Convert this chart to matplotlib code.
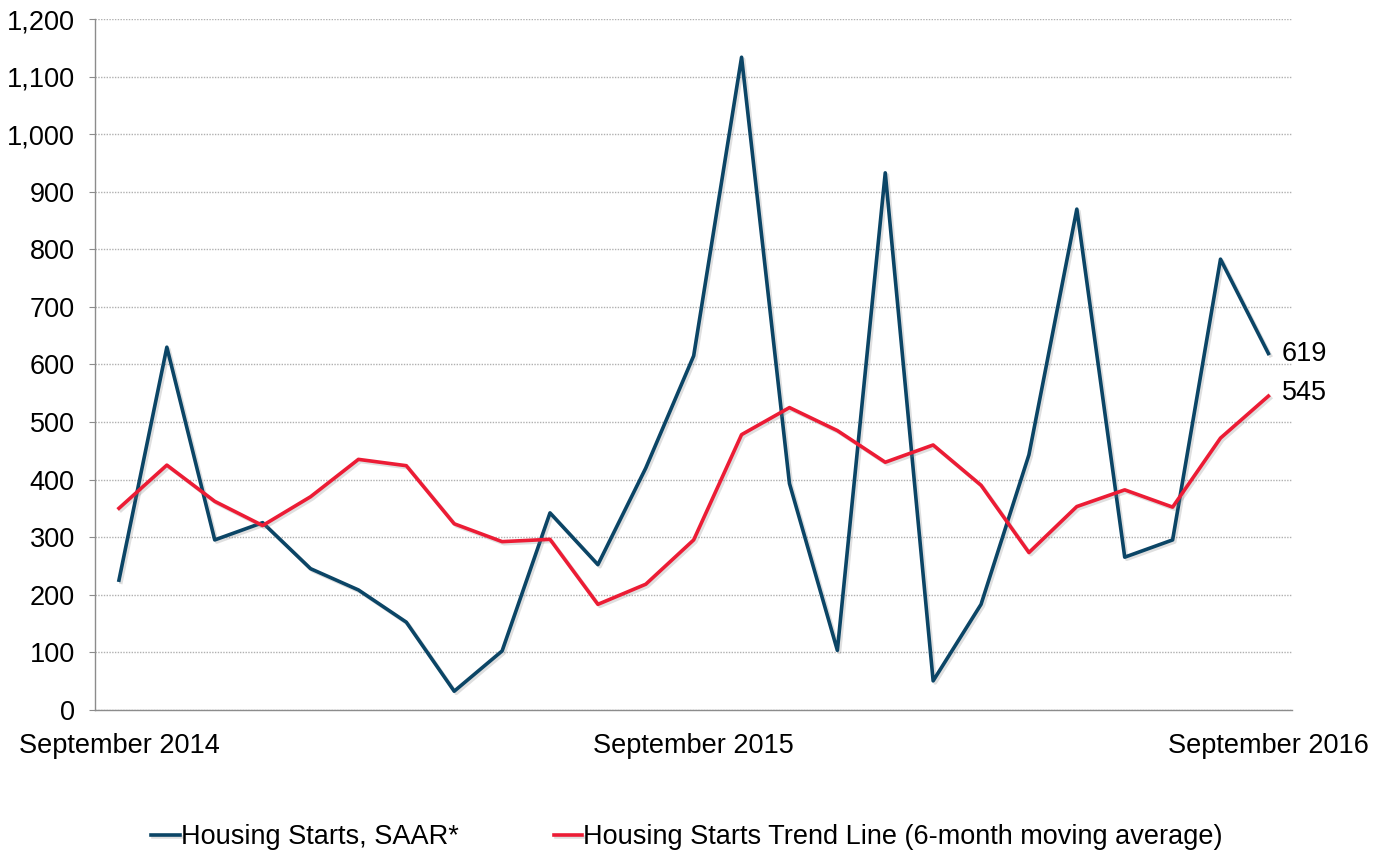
import matplotlib
matplotlib.use("Agg")
import matplotlib.pyplot as plt
import matplotlib.patheffects as pe

plt.rcParams['font.family'] = ['Liberation Sans', 'DejaVu Sans']

# monthly values, September 2014 .. September 2016
starts = [225, 630, 295, 325, 245, 208, 152, 32, 102, 342, 252, 420, 615,
          1134, 393, 103, 933, 50, 183, 443, 870, 265, 295, 783, 619]
trend = [350, 425, 362, 320, 370, 435, 424, 323, 292, 296, 183, 218, 295,
         478, 525, 485, 430, 460, 390, 273, 353, 382, 352, 472, 545]
tick_idx = [0, 12, 24]
tick_labels = ["September 2014", "September 2015", "September 2016"]

navy = "#0B4566"
red = "#EC1C35"
fs = 19.5

fig = plt.figure(figsize=(13.85, 8.56), dpi=100)
ax = fig.add_axes([0.0686, 0.171, 0.8645, 0.8065])

x = list(range(len(starts)))
shadow = [pe.SimpleLineShadow(offset=(1.5, -1.5), alpha=0.25, shadow_color='gray'), pe.Normal()]
ax.plot(x, starts, color=navy, lw=2.6, label="Housing Starts, SAAR*", path_effects=shadow, zorder=3)
ax.plot(x, trend, color=red, lw=2.6, label="Housing Starts Trend Line (6-month moving average)",
        path_effects=shadow, zorder=3)

ax.text(x[-1] + 0.28, starts[-1], str(starts[-1]), fontsize=fs, va='center', ha='left')
ax.text(x[-1] + 0.28, trend[-1] + 5, str(trend[-1]), fontsize=fs, va='center', ha='left')

ax.set_xlim(-0.5, len(starts) - 0.5)
ax.set_ylim(0, 1200)
ax.set_yticks(range(0, 1201, 100))
ax.set_yticklabels([f"{v:,}" for v in range(0, 1201, 100)])
ax.set_xticks(tick_idx)
ax.set_xticklabels(tick_labels)

ax.grid(axis='y', color='#B0B0B0', linestyle=(0, (1, 1)), linewidth=1.0)
ax.set_axisbelow(True)
for s in ['top', 'right']:
    ax.spines[s].set_visible(False)
for s in ['left', 'bottom']:
    ax.spines[s].set_color('#8C8C8C')
    ax.spines[s].set_linewidth(1.0)
ax.tick_params(axis='y', length=4.5, color='#8C8C8C', labelsize=fs, pad=10)
ax.tick_params(axis='x', length=0, labelsize=fs, pad=17)

fig.legend(loc='center', bbox_to_anchor=(0.496, 0.022), ncol=2, frameon=False, fontsize=fs,
           handlelength=1.05, handletextpad=0.05, columnspacing=3.5)

fig.savefig("out.png", dpi=100)
